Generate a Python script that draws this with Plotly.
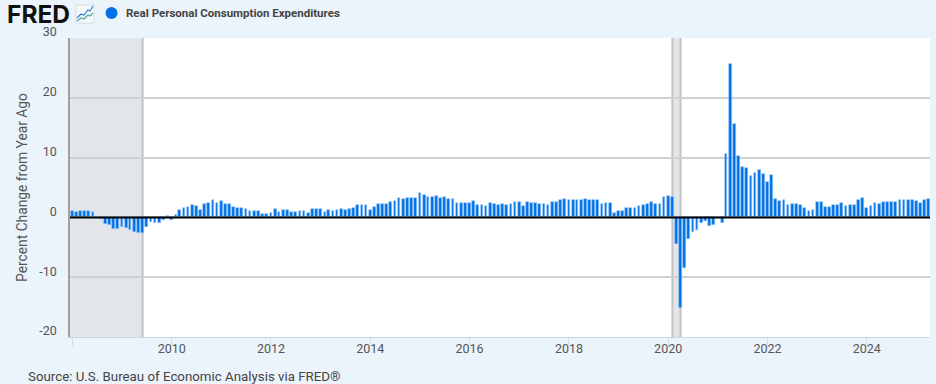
import plotly.graph_objects as go
import pandas as pd

start_month = "2008-01-01"
pct_change = [
    # 2008
    1.1, 0.85, 1.0, 1.1, 1.1, 0.85, 0.05, -0.2, -1.1, -1.3, -1.9, -2.0,
    # 2009
    -1.6, -1.7, -2.1, -2.5, -2.6, -2.6, -1.6, -0.8, -1.0, -0.9, -0.5, 0.2,
    # 2010
    -0.4, 0.4, 1.2, 1.6, 1.7, 2.0, 1.9, 1.3, 2.3, 2.4, 2.9, 2.45,
    # 2011
    2.8, 2.3, 2.2, 1.7, 1.5, 1.5, 1.35, 1.05, 1.05, 1.0, 0.6, 0.5,
    # 2012
    0.75, 1.4, 0.85, 1.2, 1.3, 0.9, 0.9, 1.0, 1.0, 0.75, 1.4, 1.4,
    # 2013
    1.4, 0.9, 1.2, 1.05, 1.3, 1.4, 1.3, 1.4, 1.6, 2.0, 2.05, 2.1,
    # 2014
    1.3, 1.8, 2.2, 2.3, 2.2, 2.6, 2.7, 3.3, 3.0, 3.3, 3.2, 3.3,
    # 2015
    4.05, 3.75, 3.45, 3.4, 3.55, 3.3, 3.45, 3.05, 3.05, 2.45, 2.35, 2.35,
    # 2016
    2.35, 2.7, 2.1, 2.1, 1.95, 2.35, 2.2, 2.0, 2.2, 2.1, 2.3, 2.55,
    # 2017
    2.55, 1.85, 2.65, 2.4, 2.4, 2.3, 2.3, 2.1, 2.55, 2.65, 2.95, 3.1,
    # 2018
    2.95, 2.95, 2.85, 2.85, 3.1, 2.85, 2.85, 2.95, 2.3, 2.4, 2.4, 0.75,
    # 2019
    1.1, 1.1, 1.55, 1.55, 1.55, 1.85, 2.1, 2.3, 2.55, 2.3, 2.3, 3.35,
    # 2020
    3.5, 3.35, -4.4, -15.1, -8.4, -3.6, -2.4, -2.15, -0.9, -0.6, -1.5, -1.2,
    # 2021
    0.0, -1.0, 10.6, 25.6, 15.6, 10.3, 8.4, 8.25, 6.95, 7.4, 8.0, 7.3,
    # 2022
    5.9, 7.1, 3.15, 2.7, 2.9, 2.0, 2.2, 2.2, 2.0, 1.6, 1.0, 1.3,
    # 2023
    2.6, 2.6, 1.75, 1.75, 2.0, 2.0, 2.4, 1.9, 2.0, 2.0, 2.9, 3.3,
    # 2024
    1.6, 1.9, 2.4, 2.2, 2.6, 2.6, 2.6, 2.6, 2.9, 2.9, 2.9, 2.9,
    # 2025
    2.7, 2.4, 2.9, 3.05,
]
months = pd.date_range(start_month, periods=len(pct_change), freq="MS")

recessions = [("2007-12-01", "2009-06-01"), ("2020-02-01", "2020-04-01")]
x_tick_vals = ["2008-01-01", "2010-01-01", "2012-01-01", "2014-01-01", "2016-01-01",
               "2018-01-01", "2020-01-01", "2022-01-01", "2024-01-01"]
x_tick_text = ["", "2010", "2012", "2014", "2016", "2018", "2020", "2022", "2024"]
y_ticks = [-20, -10, 0, 10, 20, 30]
y_tick_text = ["-20", "-10", "0", "10", "20", "30"]
series_name = "Real Personal Consumption Expenditures"

W, H = 936, 384
L, R, T, B = 70, 6, 38, 47
BG = "#ebf3fb"
BLUE = "#0071e8"
FONT = "Roboto, Arial, sans-serif"

def px(x):
    return (x - L) / (W - L - R)

def py(y):
    return 1 - (y - T) / (H - T - B)

fig = go.Figure(go.Bar(
    x=months, y=pct_change, name=series_name,
    width=20 * 86400000,
    marker=dict(color=BLUE, line=dict(color="#9cc9f7", width=0.6)),
))

shapes = []
for a, b in recessions:
    shapes.append(dict(type="rect", xref="x", yref="paper", x0=a, x1=b, y0=0, y1=1,
                       fillcolor="#e2e6ea", line_width=0, layer="below"))
    shapes.append(dict(type="line", xref="x", yref="paper", x0=b, x1=b, y0=0, y1=1,
                       line=dict(color="#c2c2c2", width=2), layer="below"))
    if a > "2008":
        shapes.append(dict(type="line", xref="x", yref="paper", x0=a, x1=a, y0=0, y1=1,
                           line=dict(color="#c2c2c2", width=2), layer="below"))
# zero line over bars
shapes.append(dict(type="line", xref="paper", yref="y", x0=0, x1=1, y0=0, y1=0,
                   line=dict(color="#000000", width=2), layer="above"))
# legend dot
shapes.append(dict(type="circle", xref="paper", yref="paper",
                   x0=px(105.5), x1=px(117.5), y0=py(19), y1=py(7),
                   fillcolor=BLUE, line_width=0))
# logo icon
shapes.append(dict(type="rect", xref="paper", yref="paper",
                   x0=px(76), x1=px(94), y0=py(23), y1=py(5),
                   fillcolor="#f6f9fc", line=dict(color="#d5dde5", width=1)))
def path(points):
    return "M" + " L".join(f"{px(a):.5f},{py(b):.5f}" for a, b in points)
shapes.append(dict(type="path", xref="paper", yref="paper",
                   path=path([(77, 18), (81, 14), (84, 15), (88, 10), (90, 11), (93, 6)]),
                   line=dict(color="#2f7fd6", width=1.2)))
shapes.append(dict(type="path", xref="paper", yref="paper",
                   path=path([(77, 21), (81, 18), (84, 19), (88, 15), (90, 16), (93, 13)]),
                   line=dict(color="#49b08f", width=1.2)))

def label(x, y, text, size, color, anchor="left", family=FONT):
    return dict(xref="paper", yref="paper", x=px(x), y=py(y), text=text, showarrow=False,
                xanchor=anchor, yanchor="middle", font=dict(size=size, color=color, family=family))

annotations = [
    label(4.5, 14, "<b>FRED</b>", 24.5, "#111111", family="Inter, Arial, sans-serif"),
    label(123.5, 13, "<b>" + series_name + "</b>", 11.5, "#444444"),
    label(25.5, 376.5, "Source: U.S. Bureau of Economic Analysis via FRED®", 13.3, "#444444"),
]

fig.update_layout(
    width=W, height=H, autosize=False,
    margin=dict(l=L, r=R, t=T, b=B),
    paper_bgcolor=BG, plot_bgcolor="#ffffff",
    showlegend=False, bargap=0,
    font=dict(family=FONT, size=14, color="#555555"),
    shapes=shapes, annotations=annotations,
    xaxis=dict(
        type="date", range=["2007-12-15", "2025-04-10"],
        tickmode="array", tickvals=x_tick_vals, ticktext=x_tick_text,
        ticks="outside", ticklen=8, tickcolor="#d3deeb", tickwidth=1,
        ticklabelstandoff=-8,
        showgrid=False, zeroline=False,
        showline=True, linecolor="#ccd6eb", linewidth=1,
        tickfont=dict(size=12.5, color="#555555"),
    ),
    yaxis=dict(
        range=[-20, 30], tickmode="array", tickvals=y_ticks, ticktext=y_tick_text,
        showgrid=True, gridcolor="#d0d0d0", gridwidth=1.5,
        zeroline=False, showline=True, linecolor="#a0a0a0", linewidth=1.5,
        ticks="", ticklabelstandoff=9, ticklabelshift=-6,
        tickfont=dict(size=12.5, color="#555555"),
        title=dict(text="Percent Change from Year Ago", font=dict(size=13.8, color="#555555"), standoff=8),
    ),
)

fig.write_html("out.html", config=dict(displayModeBar=False),
               post_script="document.body.style.margin='0';document.body.style.background='#ebf3fb';document.body.style.overflow='hidden';")
